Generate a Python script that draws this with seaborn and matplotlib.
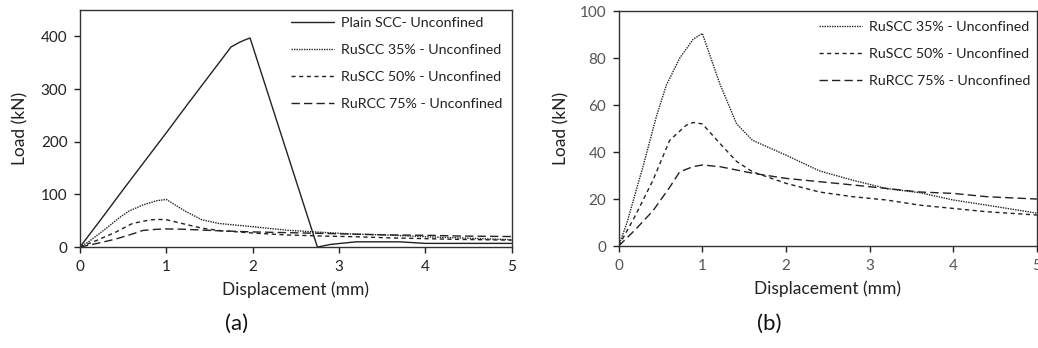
import numpy as np
import pandas as pd
import matplotlib
matplotlib.use("Agg")
import matplotlib.pyplot as plt
import seaborn as sns

# ── Data ──────────────────────────────────────────────────────────────────────

plain_x = [0, 0.25, 0.5, 0.75, 1.0, 1.25, 1.5, 1.75, 1.85, 1.92, 1.97, 2.75, 2.9, 3.2, 3.7, 4.0, 5.0]
plain_y = [0, 54, 109, 163, 217, 272, 326, 380, 389, 394, 397, 0, 5, 10, 10, 7, 7]

ru35_x = [0, 0.1, 0.3, 0.45, 0.57, 0.73, 0.89, 1.0, 1.21, 1.41, 1.6, 2.0, 2.4, 2.8, 3.2, 3.6, 4.0, 4.4, 5.0]
ru35_y = [0, 10, 35, 55, 68.5, 80, 88, 90.5, 69, 52, 45, 38.7, 32, 28, 24.5, 22.7, 19.6, 17.4, 14]

ru50_x = [0, 0.2, 0.41, 0.61, 0.81, 0.89, 1.0, 1.21, 1.41, 1.6, 2.0, 2.4, 2.8, 3.2, 3.6, 4.0, 4.4, 5.0]
ru50_y = [0, 13, 28, 45, 51.5, 52.6, 52, 43.7, 36, 31.6, 26.7, 23, 21, 19.6, 17.4, 16, 14.6, 13.2]

ru75_x = [0, 0.2, 0.41, 0.61, 0.73, 0.89, 1.0, 1.21, 1.6, 2.0, 2.4, 2.8, 3.2, 3.6, 4.0, 4.4, 5.0]
ru75_y = [0, 7, 15, 25, 31.6, 33.8, 34.5, 33.8, 31, 28.8, 27.4, 26, 24.5, 23, 22.4, 21, 20]

labels = ["Plain SCC- Unconfined", "RuSCC 35% - Unconfined",
          "RuSCC 50% - Unconfined", "RuRCC 75% - Unconfined"]

x_ticks = [0, 1, 2, 3, 4, 5]
ya_ticks = [0, 100, 200, 300, 400]
yb_ticks = [0, 20, 40, 60, 80, 100]

# ── Styling ───────────────────────────────────────────────────────────────────

sns.set_style("ticks")
plt.rcParams["font.family"] = ["Lato", "DejaVu Sans"]
plt.rcParams["axes.linewidth"] = 1.0

styles = {
    labels[0]: "-",
    labels[1]: (0, (1.0, 0.8)),
    labels[2]: (0, (3, 2.5)),
    labels[3]: (0, (6, 3)),
}
line_col = "#222222"

series = [
    (labels[0], plain_x, plain_y),
    (labels[1], ru35_x, ru35_y),
    (labels[2], ru50_x, ru50_y),
    (labels[3], ru75_x, ru75_y),
]


def draw(ax, items, ylim, yticks, tick_col, leg_anchor, ylabelpad):
    for name, xs, ys in items:
        sns.lineplot(x=xs, y=ys, ax=ax, color=line_col, linewidth=1.0,
                     linestyle=styles[name], label=name, sort=False,
                     estimator=None)
    ax.set_xlim(0, 5)
    ax.set_ylim(*ylim)
    ax.set_xticks(x_ticks)
    ax.set_yticks(yticks)
    ax.tick_params(direction="out", length=4, width=1, labelsize=11,
                   labelcolor=tick_col, color="#222222", pad=5)
    ax.set_xlabel("Displacement (mm)", fontsize=12.5, color="#222222", labelpad=6)
    ax.set_ylabel("Load (kN)", fontsize=12.5, color="#222222", labelpad=ylabelpad)
    for s in ax.spines.values():
        s.set_visible(True)
        s.set_color("#333333")
    leg = ax.legend(loc="upper right", bbox_to_anchor=leg_anchor, frameon=False,
                    fontsize=10.3, handlelength=3.0, handletextpad=0.5,
                    labelspacing=1.05, borderaxespad=0, borderpad=0)
    for t in leg.get_texts():
        t.set_color("#222222")


fig = plt.figure(figsize=(10.38, 3.48), dpi=100)
ax_a = fig.add_axes([0.077, 0.290, 0.416, 0.681])
ax_b = fig.add_axes([0.596, 0.293, 0.403, 0.675])

draw(ax_a, series, (0, 450), ya_ticks, "#222222", (0.978, 0.972), 9)
draw(ax_b, series[1:], (0, 100), yb_ticks, "#555555", (0.985, 0.958), 7)

fig.text(0.228, 0.07, "(a)", fontsize=16, ha="center", va="center", color="#111111")
fig.text(0.741, 0.07, "(b)", fontsize=16, ha="center", va="center", color="#111111")

fig.savefig("out.png", dpi=100)
plt.close(fig)
